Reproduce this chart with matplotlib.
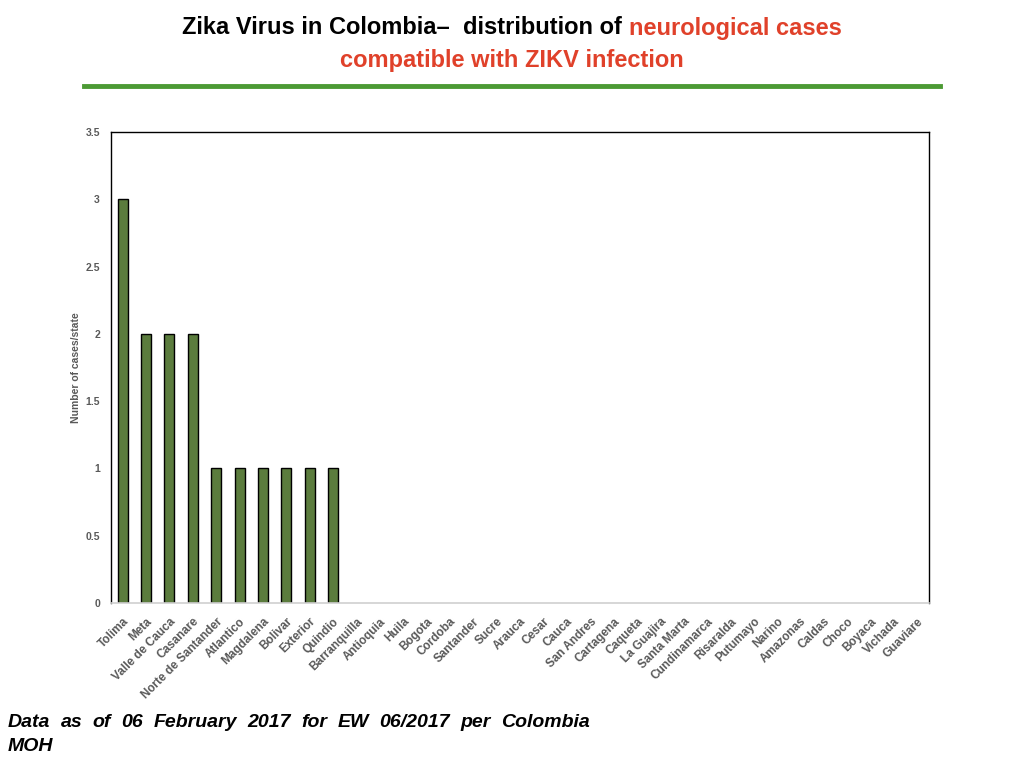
import matplotlib
matplotlib.use("Agg")
import matplotlib.pyplot as plt
import numpy as np

states = ["Tolima", "Meta", "Valle de Cauca", "Casanare", "Norte de Santander",
          "Atlantico", "Magdalena", "Bolivar", "Exterior", "Quindio",
          "Barranquilla", "Antioquia", "Huila", "Bogota", "Cordoba", "Santander",
          "Sucre", "Arauca", "Cesar", "Cauca", "San Andres", "Cartagena",
          "Caqueta", "La Guajira", "Santa Marta", "Cundinamarca", "Risaralda",
          "Putumayo", "Narino", "Amazonas", "Caldas", "Choco", "Boyaca",
          "Vichada", "Guaviare"]
cases = [3, 2, 2, 2, 1, 1, 1, 1, 1, 1,
         0, 0, 0, 0, 0, 0, 0, 0, 0, 0, 0, 0, 0, 0, 0, 0, 0, 0, 0, 0, 0, 0, 0, 0, 0]
yticks = [0, 0.5, 1, 1.5, 2, 2.5, 3, 3.5]
ytick_labels = ["0", "0.5", "1", "1.5", "2", "2.5", "3", "3.5"]

plt.rcParams['font.family'] = ['Liberation Sans', 'DejaVu Sans']

fig = plt.figure(figsize=(10.24, 7.68), dpi=100)
ax = fig.add_axes([111/1024, 1-603/768, 818/1024, 471/768])

x = np.arange(len(states))
nz = [i for i, v in enumerate(cases) if v > 0]
ax.bar([x[i] for i in nz], [cases[i] for i in nz], width=0.43,
       color="#5b7c3d", edgecolor="black", linewidth=1.0)
ax.set_xlim(-0.5, len(states) - 0.5)
ax.set_ylim(0, 3.5)
ax.set_yticks(yticks)
ax.set_yticklabels(ytick_labels, fontsize=7.5, fontweight='bold', color="#595959")
ax.set_xticks(x)
ax.set_xticklabels(states, rotation=45, ha='right', rotation_mode='anchor',
                   fontsize=8.5, fontweight='bold', color="#595959")
ax.tick_params(axis='both', length=0)
ax.tick_params(axis='y', pad=8)
ax.tick_params(axis='x', pad=9)
for s in ['left', 'top', 'right']:
    ax.spines[s].set_color('black')
    ax.spines[s].set_linewidth(1.0)
ax.spines['bottom'].set_color('#d0d0d0')
ax.spines['bottom'].set_linewidth(1.2)
ax.set_ylabel("Number of cases/state", fontsize=7.5, fontweight='bold',
              color="#595959", labelpad=3)

# Title
title_y = 1 - 28/768
t1 = fig.text(0, title_y, "Zika Virus in Colombia\u2013  distribution of ",
              ha='left', va='center', fontsize=17, fontweight='bold', color='black')
t2 = fig.text(0, title_y, "neurological cases", ha='left', va='center',
              fontsize=17, fontweight='bold', color='#e0412a')
fig.canvas.draw()
w1 = t1.get_window_extent().width
w2 = t2.get_window_extent().width
start = 512 - (w1 + w2) / 2
t1.set_x(start / 1024)
t2.set_x((start + w1) / 1024)
fig.text(0.5, 1-60/768, "compatible with ZIKV infection", ha='center', va='center',
         fontsize=17, fontweight='bold', color='#e0412a')

# green rule
fig.add_artist(plt.Line2D([84/1024, 940/1024], [1-86/768, 1-86/768],
                          color='#4c9a34', linewidth=3.5, transform=fig.transFigure))

# footer
foot_family = ['Liberation Sans Narrow', 'Liberation Sans', 'DejaVu Sans']
words = ["Data", "as", "of", "06", "February", "2017", "for", "EW", "06/2017", "per", "Colombia"]
footer_y = 1-727/768
tmp = [fig.text(0, footer_y, w, fontsize=14, fontweight='bold', style='italic',
                family=foot_family, ha='left', va='baseline') for w in words]
fig.canvas.draw()
widths = [t.get_window_extent().width for t in tmp]
total_space = (590 - 8) - sum(widths)
gap = total_space / (len(words) - 1)
xpos = 8
for t, w in zip(tmp, widths):
    t.set_x(xpos / 1024)
    xpos += w + gap
fig.text(8/1024, 1-751/768, "MOH", fontsize=14, fontweight='bold', style='italic',
         family=foot_family, ha='left', va='baseline')

fig.savefig("out.png", dpi=100)
